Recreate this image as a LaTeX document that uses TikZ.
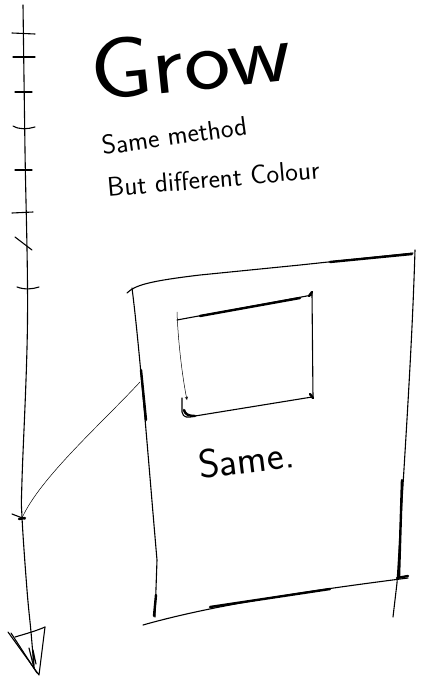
\documentclass[tikz,border=0pt]{standalone}
\usepackage{fontspec}
\begin{document}
\begin{tikzpicture}[x=1pt,y=-1pt,line cap=round,line join=round,
  pen/.style={line width=1.1pt,black},
  thin pen/.style={line width=0.5pt,black},
  heavy/.style={line width=2.4pt,black},
  hand/.style={font=\sffamily,inner sep=0pt,anchor=base west}]
\useasboundingbox (0,0) rectangle (421,678);
% axis
\draw[pen] plot[smooth,tension=0.6] coordinates {(23,5) (25,150) (27.5,320) (22,480) (22,517) (27,590) (31,632) (34,668)};
% ticks
\draw[pen] (12,33) -- (35,34);
\draw[pen] (13,57) -- (35,57);
\draw[pen] (15,92) -- (32,92);
\draw[pen] (13,126) .. controls (20,130) and (28,129) .. (35,127);
\draw[pen] (15,170) -- (32,170);
\draw[pen] (12,213) -- (33,212);
\draw[pen] (15,237) -- (32,250);
\draw[pen] (17,287) .. controls (25,290) and (33,289) .. (39,287);
\draw[pen] (12,514) -- (25,519);
\draw[heavy] (19,519) -- (25,518);
% arrow head at the bottom
\draw[pen] (8,632) -- (39,675) -- (45,627);
\draw[pen] (11,633) -- (37,673);
\draw[pen] (15,637) .. controls (25,634) and (36,631) .. (45,627);
\draw[pen] (29,648) -- (34,668) -- (33,650) -- (36,664);
% thin diagonal connector
\draw[thin pen] (22,518) .. controls (40,478) and (100,425) .. (140,382);
% outer box
\draw[pen] (127,293) .. controls (135,285) and (150,281) .. (200,275) -- (300,265) -- (413,253);
\draw[heavy] (330,262) -- (412,254);
\draw[pen] (415,250) .. controls (412,350) and (405,450) .. (397,583) -- (393,617);
\draw[heavy] (402,480) -- (399,577);
\draw[heavy] (397,578) -- (408,576);
\draw[pen] (143,625) .. controls (220,603) and (330,588) .. (408,578);
\draw[heavy] (210,607) -- (330,589);
\draw[pen] (132,288) .. controls (140,350) and (150,480) .. (157,560) -- (155,617);
\draw[heavy] (141,370) -- (146,420);
\draw[heavy] (156,595) -- (154,616);
% inner box
\draw[pen] (177,320) .. controls (220,312) and (270,303) .. (312,295);
\draw[heavy] (200,316) -- (300,298);
\draw[pen] (312,293) -- (313,398);
\draw[heavy] (309,296) -- (312,292);
\draw[heavy] (310,394) -- (313,398);
\draw[pen] (182,398) -- (182,412) .. controls (183,418) and (188,418) .. (195,416) -- (312,397);
\draw[heavy] (184,410) .. controls (185,414) and (188,416) .. (195,416);
\draw[thin pen,-stealth] (177,312) .. controls (178,340) and (182,375) .. (187,400);
% handwriting
\node[hand,rotate=6,xscale=1.15,font=\sffamily\fontsize{86}{86}\selectfont] (grow) at (93,101) {Grow};
\node[hand,rotate=8,font=\sffamily\fontsize{27}{27}\selectfont] (method) at (103,155) {Same method};
\node[hand,rotate=5,font=\sffamily\fontsize{27}{27}\selectfont] (colour) at (108,197) {But different Colour};
\node[hand,rotate=7,font=\sffamily\fontsize{40}{40}\selectfont] (same) at (200,479) {Same.};
\end{tikzpicture}
\end{document}
